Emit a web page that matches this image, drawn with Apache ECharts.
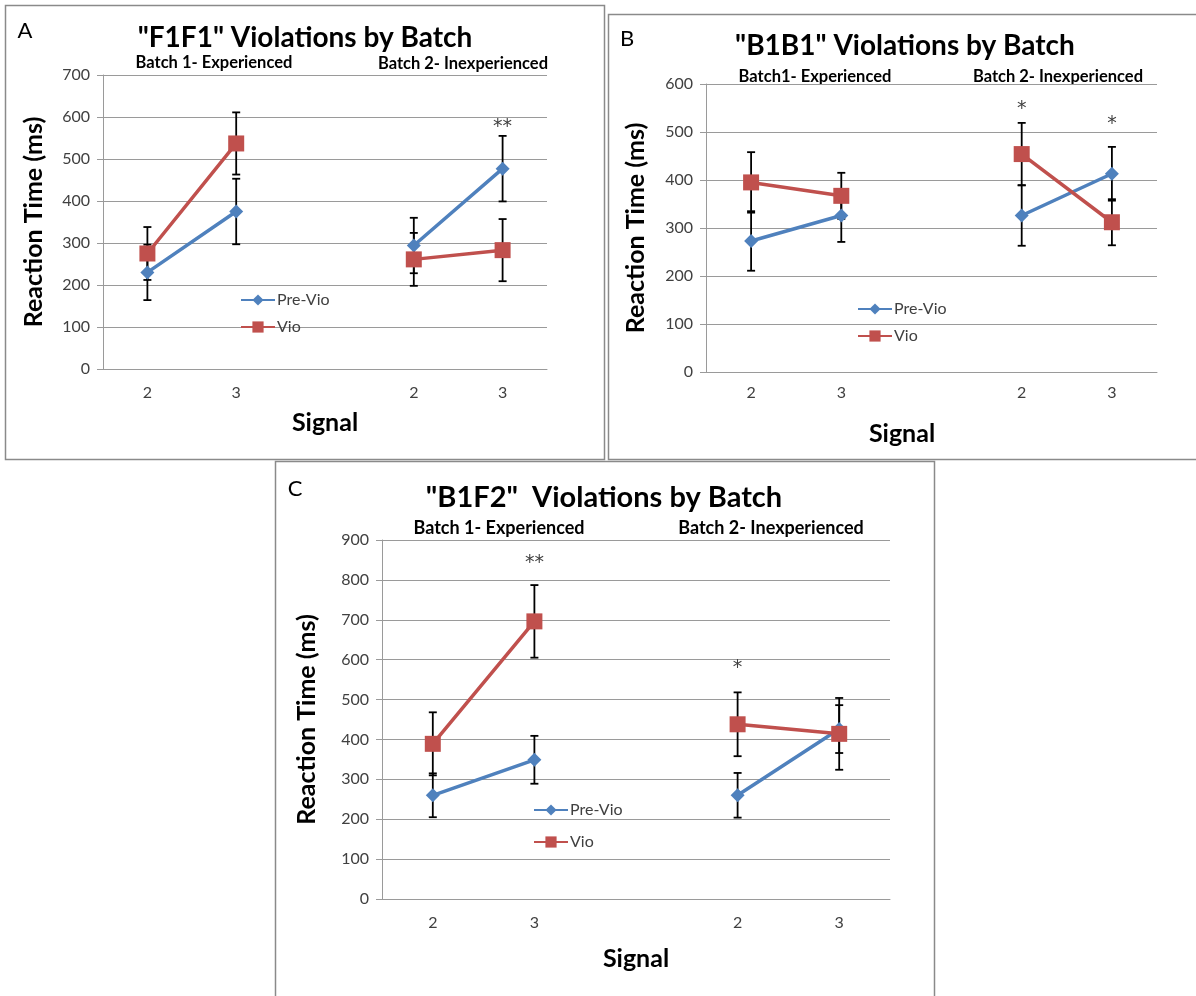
<!DOCTYPE html>
<html>
<head>
<meta charset="utf-8">
<script src="https://cdn.jsdelivr.net/npm/echarts@6/dist/echarts.min.js"></script>
<style>
html,body{margin:0;padding:0;background:#fff;}
#chart{width:1196px;height:996px;}
</style>
</head>
<body>
<div id="chart"></div>
<script>
// ---------- DATA ----------
const categories = ['2', '3', '', '2', '3'];
const seriesNames = ['Pre-Vio', 'Vio'];
const yTitle = 'Reaction Time (ms)';
const xTitle = 'Signal';

// Panel A: "F1F1"
const aTitle = '"F1F1" Violations by Batch';
const aBatch = ['Batch 1- Experienced', 'Batch 2- Inexperienced'];
const aPre = [230, 375, null, 294, 477];
const aPreErr = [66, 78, null, 66, 78];
const aVio = [275, 537, null, 261, 283];
const aVioErr = [63, 74, null, 63, 74];
const aStarIdx = [4];
const aStarVal = [583];
const aStarText = ['**'];
const aMax = 700;

// Panel B: "B1B1"
const bTitle = '"B1B1" Violations by Batch';
const bBatch = ['Batch1- Experienced', 'Batch 2- Inexperienced'];
const bPre = [273, 326, null, 326, 413];
const bPreErr = [62, 55, null, 63, 56];
const bVio = [395, 367, null, 454, 312];
const bVioErr = [63, 48, null, 65, 48];
const bStarIdx = [3, 4];
const bStarVal = [555, 522];
const bStarText = ['*', '*'];
const bMax = 600;

// Panel C: "B1F2"
const cTitle = '"B1F2"  Violations by Batch';
const cBatch = ['Batch 1- Experienced', 'Batch 2- Inexperienced'];
const cPre = [260, 349, null, 260, 426];
const cPreErr = [55, 60, null, 56, 60];
const cVio = [389, 696, null, 438, 414];
const cVioErr = [79, 91, null, 80, 90];
const cStarIdx = [1, 3];
const cStarVal = [849, 587];
const cStarText = ['**', '*'];
const cMax = 900;

// ---------- STYLE / LAYOUT ----------
const FONT = 'Lato, "Open Sans", "DejaVu Sans", sans-serif';
const BLUE = '#4F81BD';
const RED = '#C0504D';
const GRIDC = '#9a9a9a';
const TXT = '#404040';

const panels = [
  {letter:'A', title:aTitle, batch:aBatch, pre:aPre, preErr:aPreErr, vio:aVio, vioErr:aVioErr,
   starIdx:aStarIdx, starVal:aStarVal, starText:aStarText, max:aMax,
   grid:{left:103, top:75, width:444, height:294},
   box:[5,5,599,454], letterPos:[25,31], titlePos:[305,38], titleSize:28,
   batchPos:[[214,63],[463,64]], batchSize:16.5, signalPos:[325,423], yGap:57,
   legend:{left:240, top:292, gap:11}, xLabMargin:16},
  {letter:'B', title:bTitle, batch:bBatch, pre:bPre, preErr:bPreErr, vio:bVio, vioErr:bVioErr,
   starIdx:bStarIdx, starVal:bStarVal, starText:bStarText, max:bMax,
   grid:{left:706, top:84, width:451, height:288},
   box:[608,14,600,445], letterPos:[627,39], titlePos:[905,46], titleSize:28,
   batchPos:[[815,77],[1058,77]], batchSize:16.5, signalPos:[902,434], yGap:58,
   legend:{left:857, top:301, gap:11}, xLabMargin:13},
  {letter:'C', title:cTitle, batch:cBatch, pre:cPre, preErr:cPreErr, vio:cVio, vioErr:cVioErr,
   starIdx:cStarIdx, starVal:cStarVal, starText:cStarText, max:cMax,
   grid:{left:382, top:540, width:508, height:359},
   box:[275,461,659,540], letterPos:[295,489], titlePos:[604,498], titleSize:29,
   batchPos:[[499,528],[771,528]], batchSize:18, signalPos:[636,959], yGap:63,
   legend:{left:533, top:802, gap:16}, xLabMargin:16}
];

const option = {
  backgroundColor:'#fff',
  animation:false,
  grid:[], xAxis:[], yAxis:[], series:[], legend:[], graphic:[]
};

function errData(vals, errs){
  const out = [];
  vals.forEach((v,i)=>{ if(v!=null && errs[i]!=null) out.push([i, v-errs[i], v+errs[i]]); });
  return out;
}

function errRender(params, api){
  const x = api.value(0);
  const lo = api.coord([x, api.value(1)]);
  const hi = api.coord([x, api.value(2)]);
  const w = 4;
  const st = {stroke:'#000', lineWidth:1.8};
  return {type:'group', children:[
    {type:'line', shape:{x1:lo[0], y1:lo[1], x2:hi[0], y2:hi[1]}, style:st},
    {type:'line', shape:{x1:lo[0]-w, y1:lo[1], x2:lo[0]+w, y2:lo[1]}, style:st},
    {type:'line', shape:{x1:hi[0]-w, y1:hi[1], x2:hi[0]+w, y2:hi[1]}, style:st}
  ]};
}

panels.forEach((p, k)=>{
  option.grid.push(Object.assign({containLabel:false}, p.grid));
  option.xAxis.push({
    type:'category', gridIndex:k, data:categories, boundaryGap:true,
    axisLine:{show:true, lineStyle:{color:GRIDC, width:1}},
    axisTick:{show:false},
    axisLabel:{color:TXT, fontSize:16, fontFamily:FONT, margin:p.xLabMargin, interval:0},
    splitLine:{show:false}
  });
  option.yAxis.push({
    type:'value', gridIndex:k, min:0, max:p.max, interval:100,
    name:yTitle, nameLocation:'middle', nameGap:p.yGap,
    nameTextStyle:{fontSize:25, fontWeight:'bold', fontFamily:FONT, color:'#000'},
    axisLine:{show:true, lineStyle:{color:GRIDC, width:1}},
    axisTick:{show:true, length:6, lineStyle:{color:GRIDC}},
    axisLabel:{color:TXT, fontSize:16, fontFamily:FONT, margin:13},
    splitLine:{show:true, lineStyle:{color:GRIDC, width:1}}
  });
  // error bars
  option.series.push({
    type:'custom', name:'errPre'+k, xAxisIndex:k, yAxisIndex:k, z:2,
    renderItem:errRender, data:errData(p.pre, p.preErr), silent:true
  });
  option.series.push({
    type:'custom', name:'errVio'+k, xAxisIndex:k, yAxisIndex:k, z:2,
    renderItem:errRender, data:errData(p.vio, p.vioErr), silent:true
  });
  option.series.push({
    type:'line', name:seriesNames[0], xAxisIndex:k, yAxisIndex:k, z:3,
    data:p.pre, connectNulls:false, symbol:'diamond', symbolSize:14,
    lineStyle:{color:BLUE, width:3.5}, itemStyle:{color:BLUE}
  });
  option.series.push({
    type:'line', name:seriesNames[1], xAxisIndex:k, yAxisIndex:k, z:4,
    data:p.vio, connectNulls:false, symbol:'rect', symbolSize:16,
    lineStyle:{color:RED, width:3.5}, itemStyle:{color:RED}
  });
  // significance stars
  const starData = p.starIdx.map((idx,i)=>[idx, p.starVal[i]]);
  const texts = p.starText;
  option.series.push({
    type:'custom', name:'stars'+k, xAxisIndex:k, yAxisIndex:k, z:5, silent:true,
    data:starData,
    renderItem:(params, api)=>{
      const pt = api.coord([api.value(0), api.value(1)]);
      return {type:'text', style:{x:pt[0], y:pt[1]+3, text:texts[params.dataIndex],
        fill:TXT, font:'19px "DejaVu Sans", sans-serif', textAlign:'center', textVerticalAlign:'middle',
        align:'center', verticalAlign:'middle'}};
    }
  });
  option.legend.push({
    data:seriesNames, orient:'vertical', left:p.legend.left, top:p.legend.top,
    itemWidth:34, itemHeight:14, itemGap:p.legend.gap, padding:0,
    textStyle:{fontSize:16, fontFamily:FONT, color:TXT, padding:[0,0,0,-3]},
    selectedMode:false
  });
  // texts and box
  const tx = (pos, text, font, fill)=>({type:'text', silent:true, style:{
    x:pos[0], y:pos[1], text:text, font:font, fill:fill||'#000',
    textAlign:'center', textVerticalAlign:'middle', align:'center', verticalAlign:'middle'}});
  option.graphic.push({type:'rect', silent:true, z:-10,
    shape:{x:p.box[0]+0.5, y:p.box[1]+0.5, width:p.box[2], height:p.box[3]},
    style:{fill:'none', stroke:'#8a8a8a', lineWidth:1.5}});
  option.graphic.push(tx(p.letterPos, p.letter, '22px '+FONT, '#000'));
  option.graphic.push(tx(p.titlePos, p.title, 'bold '+p.titleSize+'px '+FONT, '#000'));
  option.graphic.push(tx(p.batchPos[0], p.batch[0], 'bold '+p.batchSize+'px '+FONT, '#000'));
  option.graphic.push(tx(p.batchPos[1], p.batch[1], 'bold '+p.batchSize+'px '+FONT, '#000'));
  option.graphic.push(tx(p.signalPos, xTitle, 'bold 25px '+FONT, '#000'));
});

const chart = echarts.init(document.getElementById('chart'), null, {renderer:'canvas'});
chart.setOption(option);
</script>
</body>
</html>
